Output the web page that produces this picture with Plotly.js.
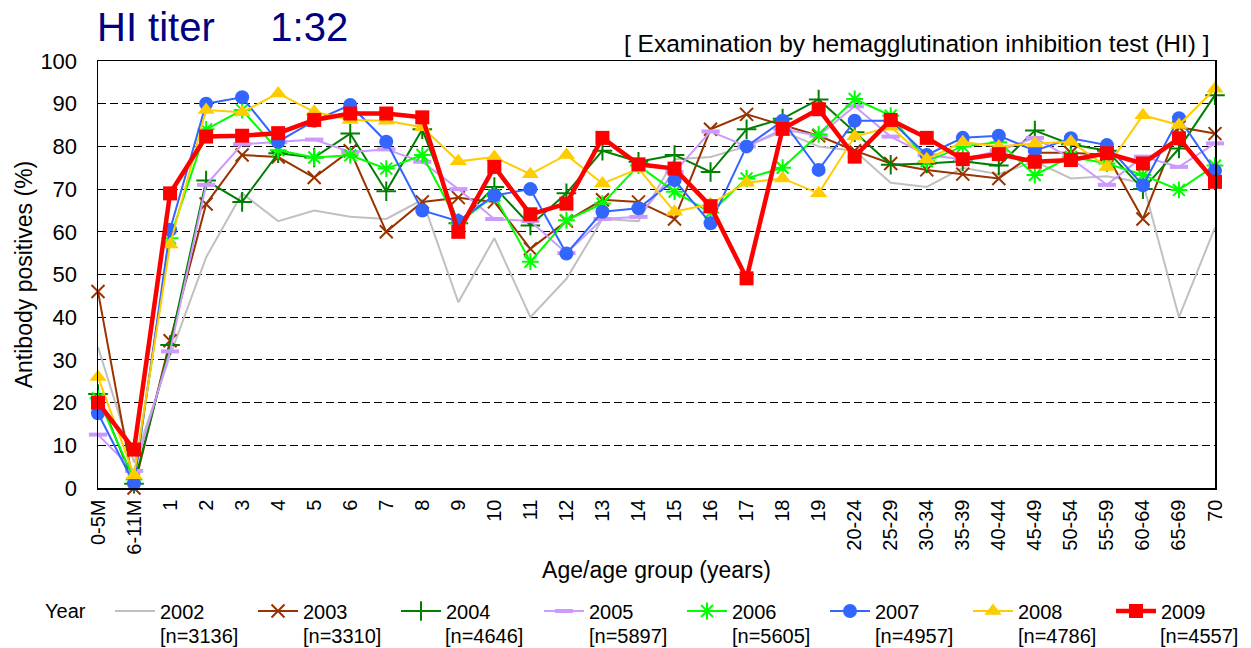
<!DOCTYPE html>
<html>
<head>
<meta charset="utf-8">
<script src="https://cdn.plot.ly/plotly-3.0.1.min.js"></script>
<style>html,body{margin:0;padding:0;background:#fff;}#chart{width:1251px;height:648px;}</style>
</head>
<body>
<div id="chart"></div>
<script>
// ---- data ----
const categories = ['0-5M','6-11M','1','2','3','4','5','6','7','8','9','10','11','12','13','14','15','16','17','18','19','20-24','25-29','30-34','35-39','40-44','45-49','50-54','55-59','60-64','65-69','70'];
const years = ['2002','2003','2004','2005','2006','2007','2008','2009'];
const sampleSizes = ['[n=3136]','[n=3310]','[n=4646]','[n=5897]','[n=5605]','[n=4957]','[n=4786]','[n=4557]'];

const y2002 = [33, 6, 31, 54, 69, 62.5, 65, 63.5, 63, 67.5, 43.5, 58.5, 40, 49, 63, 62.5, 77, 77.5, 80, 83.5, 80, 79, 71.5, 70.5, 75, 73.5, 76.5, 72.5, 73, 71.5, 40, 61];
const y2003 = [46, 0, 34.5, 66.5, 78, 77.5, 72.7, 79, 60, 67, 68, 67, 56, 62.5, 67.5, 67, 63, 84, 87.5, 85, 82.5, 79, 76, 74.5, 73.5, 72.5, 78.5, 78.5, 78, 63, 84.5, 83];
const y2004 = [22, 1, 33.5, 72, 67, 78.4, 77.4, 83, 69.5, 84, 62, 70.5, 61.5, 69, 79, 76.4, 78, 74, 84, 86.5, 91, 83.3, 75.7, 76, 76.5, 75.5, 83.7, 80.5, 79, 70, 79.5, 92];
const y2005 = [12.5, 4, 32, 71, 80.5, 81, 81.6, 78.7, 79.3, 76.4, 70, 63, 62.5, 55, 63, 63.5, 74, 83.5, 80, 84, 82.5, 89.4, 82.3, 78, 77, 79, 82, 77.2, 71, 77.6, 75.2, 80.7];
const y2006 = [21, 2, 58.5, 84, 88.5, 79.1, 77.4, 77.9, 74.8, 78, 62, 68.5, 53, 62.7, 66.6, 75.5, 69.4, 64.5, 72.5, 75, 82.8, 91.1, 87.2, 76.5, 80, 81, 73.3, 77.6, 76, 73.3, 69.8, 75.5];
const y2007 = [17.5, 1, 60.5, 90, 91.5, 81.1, 86, 89.7, 81.1, 65, 62.5, 68.5, 70, 54.9, 64.7, 65.5, 72.1, 62, 80, 86, 74.5, 86, 86, 78, 82, 82.5, 79, 81.9, 80.3, 70.9, 86.6, 74.3];
const y2008 = [26, 3, 57, 88.5, 88, 92.4, 88.1, 86.2, 86, 84.5, 76.5, 77.5, 73.5, 78, 71.3, 74.8, 64.7, 66.5, 71.5, 72.5, 69, 82.3, 84.6, 77, 81, 80, 80.7, 81.1, 75.2, 87.3, 85, 93.5];
const y2009 = [20, 9, 69, 82.3, 82.5, 83.1, 86.2, 87.7, 87.7, 86.8, 60, 75.2, 64.1, 66.6, 82, 75.8, 74.8, 66, 49.1, 84.1, 88.7, 77.6, 86.2, 82, 77, 78.2, 76.4, 76.8, 78.4, 76, 81.9, 71.7];
const yTicks = [0,10,20,30,40,50,60,70,80,90,100];

const seriesValues = [y2002, y2003, y2004, y2005, y2006, y2007, y2008, y2009];

// ---- styles ----
const styles = [
  {color:'#c0c0c0', width:2, mode:'lines'},
  {color:'#993300', width:2, symbol:'x-thin', size:13, mlw:2},
  {color:'#007f00', width:2, symbol:'cross-thin', size:14, mlw:2},
  {color:'#cc99ff', width:2, symbol:'line-ew', size:13, mlw:4},
  {color:'#00ff00', width:2, symbol:'asterisk', size:14, mlw:2},
  {color:'#3366ff', width:2, symbol:'circle', size:14, mlw:0},
  {color:'#ffcc00', width:2, symbol:'triangle-up', size:15, mlw:0},
  {color:'#ff0000', width:4.5, symbol:'square', size:14, mlw:0}
];

const FONT = '"Liberation Sans", Arial, sans-serif';

const traces = years.map((yr, i) => {
  const s = styles[i];
  const t = {
    type:'scatter',
    x: categories,
    y: seriesValues[i],
    name: yr,
    mode: s.mode || 'lines+markers',
    line: {color: s.color, width: s.width},
    cliponaxis: false,
    legend: i === years.length - 1 ? 'legend2' : 'legend'
  };
  if (s.symbol) {
    t.marker = {symbol: s.symbol, size: s.size, color: s.color,
                line: {color: s.color, width: s.mlw}};
  }
  return t;
});

// plot area pixel geometry for layout positioning
const L = 98, R = 36, T = 61, B = 160, W = 1251, H = 648;
const pw = W - L - R, ph = H - T - B;
const px = x => (x - L) / pw;
const py = y => (H - B - y) / ph;

const nCenters = [198.5, 341.5, 484, 627.5, 770.5, 914, 1056.5, 1199];
const legendRowY = 611;
const legendStart = 110, entryStep = 143;

const annotations = [
  {text:'HI titer\u00A0\u00A0\u00A0\u00A0\u00A01:32', xref:'paper', yref:'paper', x:px(95), y:py(27),
   xanchor:'left', yanchor:'middle', showarrow:false, font:{family:FONT, size:40, color:'#000080'}},
  {text:'[ Examination by hemagglutination inhibition test (HI) ]', xref:'paper', yref:'paper', x:px(1212), y:py(44),
   xanchor:'right', yanchor:'middle', showarrow:false, font:{family:FONT, size:24.5, color:'#000'}},
  {text:'Year', xref:'paper', yref:'paper', x:px(43), y:py(legendRowY),
   xanchor:'left', yanchor:'middle', showarrow:false, font:{family:FONT, size:20, color:'#000'}}
];
sampleSizes.forEach((n, i) => {
  annotations.push({text:n, xref:'paper', yref:'paper', x:px(nCenters[i]), y:py(636),
    xanchor:'center', yanchor:'middle', showarrow:false, font:{family:FONT, size:20, color:'#000'}});
});

const legendBase = {orientation:'h', xref:'paper', xanchor:'left', yref:'paper', y:py(legendRowY), yanchor:'middle',
  font:{family:FONT, size:20, color:'#000'}, itemwidth:40, entrywidthmode:'pixels',
  traceorder:'normal', bgcolor:'rgba(0,0,0,0)'};

const layout = {
  width: W, height: H,
  margin: {l:L, r:R, t:T, b:B, pad:0},
  paper_bgcolor:'#fff', plot_bgcolor:'#fff',
  font: {family: FONT, color:'#000', size:20},
  showlegend: true,
  legend: Object.assign({}, legendBase, {x: px(legendStart), entrywidth:88}),
  legend2: Object.assign({}, legendBase, {x: px(legendStart + 7 * entryStep), entrywidth:48}),
  xaxis: {
    type:'category', categoryorder:'array', categoryarray: categories,
    range:[0, categories.length - 1],
    tickangle:-90, tickfont:{family:FONT, size:20, color:'#000'},
    showgrid:false, zeroline:false, showline:true, linecolor:'#000', linewidth:1.5, mirror:true,
    ticks:'', ticklabelstandoff:2, automargin:false,
    title:{text:'Age/age group (years)', font:{family:FONT, size:23, color:'#000'}, standoff:8}
  },
  yaxis: {
    range:[0,100], tickvals: yTicks, ticktext: yTicks.map(String),
    tickfont:{family:FONT, size:22, color:'#000'},
    showgrid:true, gridcolor:'#000', gridwidth:1, griddash:'8px,4px',
    zeroline:false, showline:true, linecolor:'#000', linewidth:1.5, mirror:true,
    ticks:'', ticklabelstandoff:15, automargin:false,
    title:{text:'Antibody positives (%)', font:{family:FONT, size:23, color:'#000'}, standoff:1}
  },
  annotations: annotations
};

Plotly.newPlot('chart', traces, layout, {displayModeBar:false, staticPlot:true});
</script>
</body>
</html>
